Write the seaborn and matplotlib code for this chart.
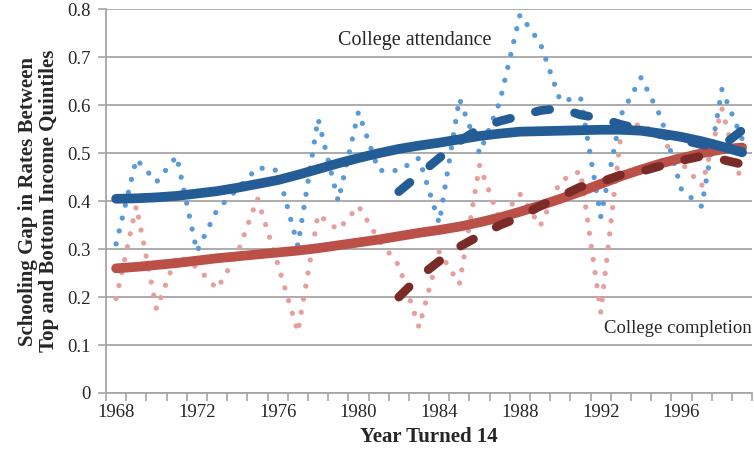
import numpy as np
import pandas as pd
import matplotlib
matplotlib.use("Agg")
import matplotlib.pyplot as plt
import seaborn as sns

# annual values, year the cohort turned 14
years = list(range(1968, 2000))

attend_raw = [0.311, 0.488, 0.440, 0.494, 0.295, 0.382, 0.425, 0.470, 0.464, 0.307,
              0.572, 0.400, 0.586, 0.464, 0.464, 0.490, 0.354, 0.614, 0.500, 0.607,
              0.789, 0.730, 0.609, 0.616, 0.368, 0.580, 0.658, 0.573, 0.424, 0.389,
              0.633, 0.530]
complete_raw = [0.197, 0.390, 0.175, 0.287, 0.262, 0.217, 0.290, 0.406, 0.270, 0.127,
                0.372, 0.340, 0.390, 0.320, 0.266, 0.137, 0.295, 0.227, 0.475, 0.360,
                0.415, 0.348, 0.442, 0.463, 0.168, 0.540, 0.563, 0.530, 0.480, 0.432,
                0.593, 0.433]
attend_smooth = [0.405, 0.406, 0.408, 0.411, 0.416, 0.421, 0.428, 0.436, 0.444, 0.455,
                 0.467, 0.479, 0.490, 0.500, 0.509, 0.516, 0.522, 0.529, 0.536, 0.541,
                 0.545, 0.546, 0.547, 0.548, 0.549, 0.549, 0.547, 0.541, 0.534, 0.525,
                 0.514, 0.502]
complete_smooth = [0.260, 0.263, 0.267, 0.271, 0.276, 0.281, 0.285, 0.289, 0.293, 0.297,
                   0.302, 0.308, 0.314, 0.320, 0.327, 0.334, 0.340, 0.347, 0.356, 0.366,
                   0.378, 0.391, 0.405, 0.420, 0.436, 0.452, 0.466, 0.479, 0.490, 0.500,
                   0.508, 0.512]

# later cohorts (dashed)
years_late = list(range(1982, 2000))
attend_late = [0.420, 0.455, 0.490, 0.525, 0.552, 0.567, 0.578, 0.589, 0.594, 0.580,
               0.573, 0.560, 0.550, 0.539, 0.528, 0.518, 0.515, 0.548]
complete_late = [0.200, 0.242, 0.275, 0.305, 0.328, 0.350, 0.367, 0.390, 0.410, 0.430,
                 0.440, 0.455, 0.462, 0.474, 0.485, 0.494, 0.487, 0.477]

tick_years = [1968, 1972, 1976, 1980, 1984, 1988, 1992, 1996]

df = pd.DataFrame({"year": np.array(years) + 0.5,
                   "attend_raw": attend_raw, "complete_raw": complete_raw,
                   "attend_smooth": attend_smooth, "complete_smooth": complete_smooth})
late = pd.DataFrame({"year": np.array(years_late) + 0.5,
                     "attend": attend_late, "complete": complete_late})

sns.set_style("white")
plt.rcParams["font.family"] = ["Liberation Serif", "DejaVu Serif"]

fig = plt.figure(figsize=(7.54, 4.55), dpi=100)
ax = fig.add_axes([0.1406, 0.1363, 0.857, 0.843])

dot_kw = dict(linewidth=3.8, dash_capstyle="round", linestyle=(0, (0.01, 2.5)))
sns.lineplot(data=df, x="year", y="complete_raw", color="#e5a09e", ax=ax, **dot_kw)
sns.lineplot(data=df, x="year", y="attend_raw", color="#5b9ad8", ax=ax, **dot_kw)

thick_kw = dict(linewidth=7.0, solid_capstyle="round")
sns.lineplot(data=df, x="year", y="complete_smooth", color="#bb5049", ax=ax, **thick_kw)
sns.lineplot(data=df, x="year", y="attend_smooth", color="#245d96", ax=ax, **thick_kw)

dash_kw = dict(linewidth=6.3, dash_capstyle="round", linestyle=(0, (1.65, 2.95)))
sns.lineplot(data=late, x="year", y="complete", color="#7a2b28", ax=ax, **dash_kw)
sns.lineplot(data=late, x="year", y="attend", color="#245d96", ax=ax, **dash_kw)

ax.set_xlim(1968, 2000)
ax.set_ylim(0, 0.8)
ax.set_yticks(np.arange(0, 0.81, 0.1))
ax.set_yticklabels(["0"] + [f"{v:.1f}" for v in np.arange(0.1, 0.81, 0.1)])
ax.yaxis.grid(True, color="#a6a6a6", linewidth=1.3)
ax.set_axisbelow(True)

# tick marks at year boundaries, labels centred in the year
ax.set_xticks(range(1968, 2001))
ax.set_xticklabels([])
ax.set_xticks([y + 0.5 for y in tick_years], minor=True)
ax.set_xticklabels([str(y) for y in tick_years], minor=True)
ax.tick_params(axis="x", which="major", direction="out", length=6, color="#a6a6a6", width=1.2)
ax.tick_params(axis="x", which="minor", length=0, pad=8, labelsize=13.5)
ax.tick_params(axis="y", direction="out", length=6, color="#a6a6a6", width=1.2, pad=5, labelsize=13.5)
ax.tick_params(left=True, bottom=True)

for s in ["top", "right"]:
    ax.spines[s].set_visible(False)
for s in ["left", "bottom"]:
    ax.spines[s].set_color("#a6a6a6")
    ax.spines[s].set_linewidth(1.3)

ax.set_xlabel("Year Turned 14", fontsize=15, fontweight="bold", labelpad=4)
ax.set_ylabel("Schooling Gap in Rates Between\nTop and Bottom Income Quintiles",
              fontsize=15, fontweight="bold", labelpad=6, linespacing=1.05)

ax.text(1983.3, 0.735, "College attendance", fontsize=14.5, ha="center", va="center")
ax.text(1996.3, 0.135, "College completion", fontsize=13.5, ha="center", va="center")

fig.savefig("out.png", dpi=100)
